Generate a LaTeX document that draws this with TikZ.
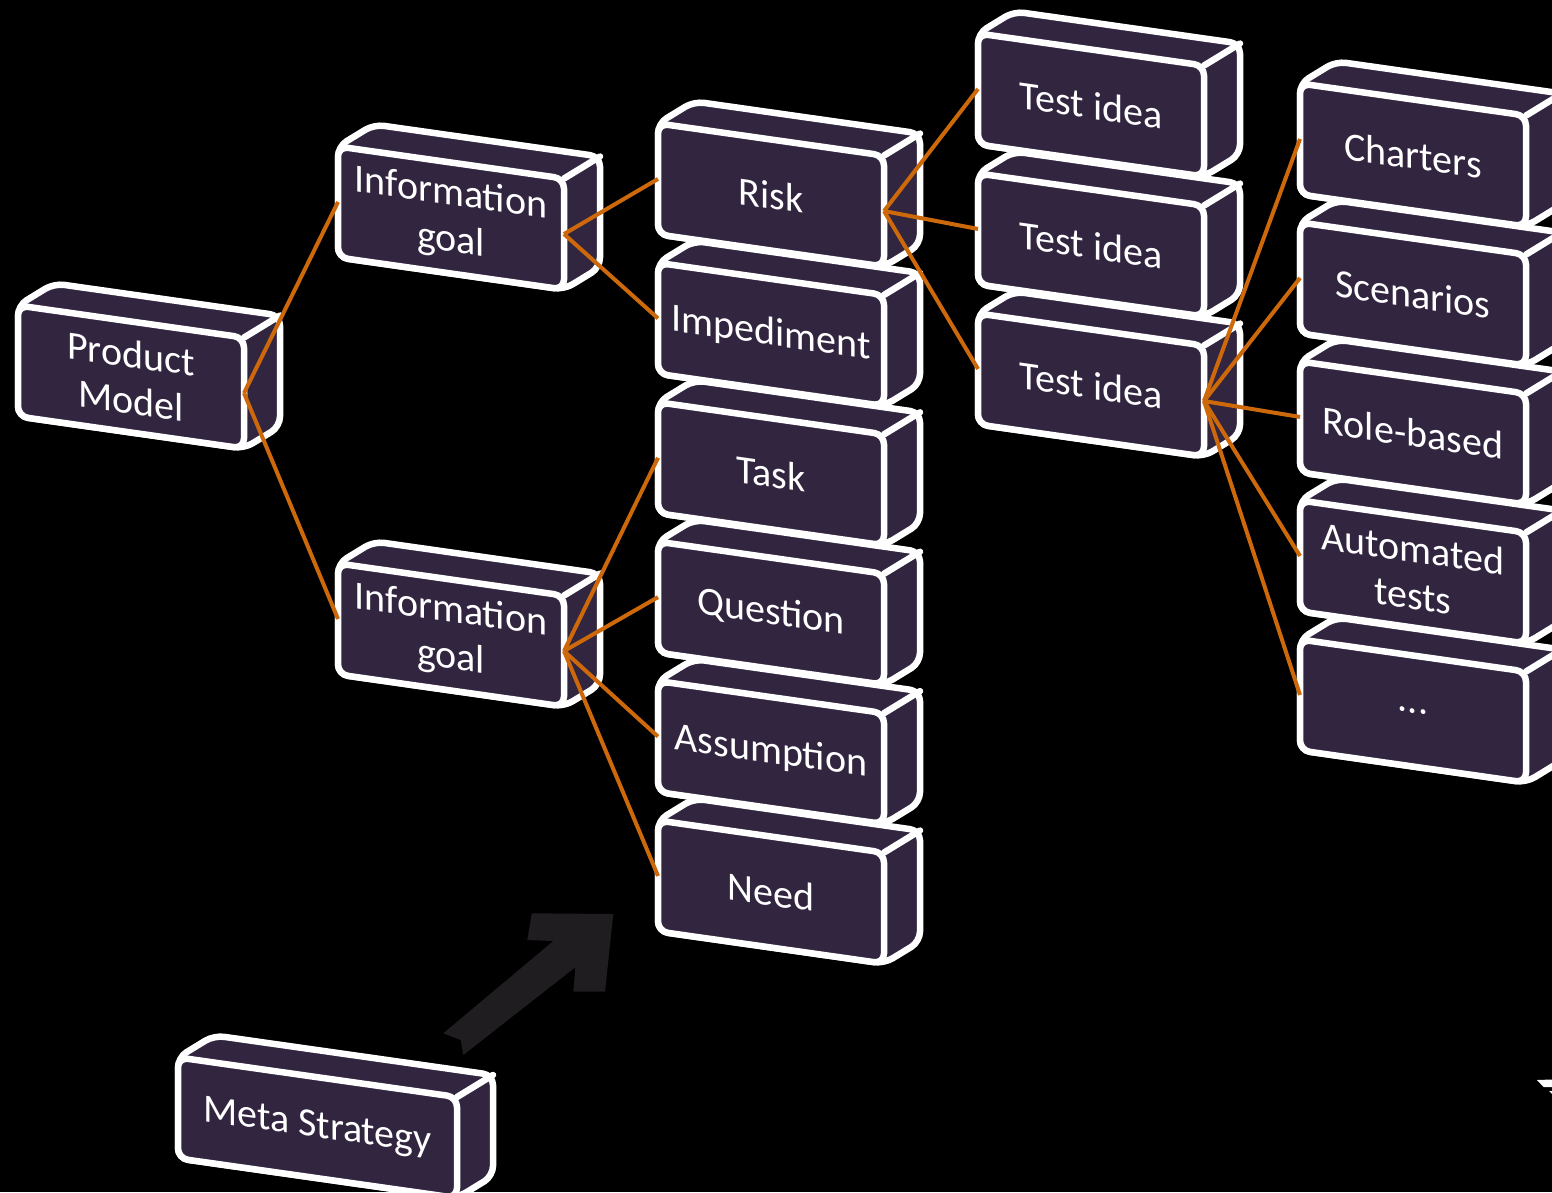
\documentclass[tikz,border=0pt]{standalone}
\usepackage{fontspec}
\setmainfont{Carlito}
\definecolor{boxfill}{RGB}{49,37,64}
\definecolor{linkorange}{RGB}{205,105,10}
\definecolor{sketch}{RGB}{31,29,31}
\tikzset{
  brickframe/.style={yslant=-0.142, minimum width=226pt, minimum height=111pt,
    inner sep=0pt, outer sep=0pt},
  brickbody/.style={fill=boxfill, draw=white, line width=6.5pt, rounded corners=10pt, line join=round},
  brickedge/.style={draw=white, line width=6.5pt, line cap=round},
  brickface/.style={brickframe, brickbody, text=white,
    font=\fontsize{40}{47}\selectfont, align=center},
  link/.style={draw=linkorange, line width=4pt},
}
% A slanted brick: hidden frame node, top and side faces, then the labelled front face.
\newcommand\brick[4][]{%
  \path (#3) node[brickframe,#1] (#2-frame) {};
  \draw[brickbody] (#2-frame.north west)
    -- ([shift={(36,-22)}]#2-frame.north west)
    -- ([shift={(36,-22)}]#2-frame.north east)
    -- ([shift={(36,-22)}]#2-frame.south east)
    -- (#2-frame.south east) -- (#2-frame.south west) -- cycle;
  \draw[brickedge] (#2-frame.north east) -- ([shift={(36,-22)}]#2-frame.north east);
  \node[brickface,#1] (#2) at (#3) {#4};
}
\begin{document}
\begin{tikzpicture}[x=1pt,y=-1pt]
\path[use as bounding box, fill=black] (0,0) rectangle (1552,1192);
\clip (0,0) rectangle (1552,1192);

% root and goals
\brick{pm}{131,377}{Product\\Model}
\brick{igA}{451,218}{Information\\goal}
\brick{igB}{451,635}{Information\\goal}

% third column, bottom to top so upper bricks sit in front
\brick{need}{771,892}{Need}
\brick{assumption}{771,752.6}{Assumption}
\brick{question}{771,613.2}{Question}
\brick{task}{771,473.8}{Task}
\brick{impediment}{771,334.4}{Impediment}
\brick{risk}{771,195}{Risk}

% test ideas
\brick{tiC}{1091,385}{Test idea}
\brick{tiB}{1091,245}{Test idea}
\brick{tiA}{1091,105}{Test idea}

% test forms
\brick{more}{1413,711}{...}
\brick{automated}{1413,572}{Automated\\tests}
\brick{role}{1413,433}{Role-based}
\brick{scenarios}{1413,294}{Scenarios}
\brick{charters}{1413,155}{Charters}

% meta strategy
\brick[minimum width=279pt, minimum height=101pt]{meta}{317.5,1127.7}{Meta Strategy}

% sketched arrow
\fill[sketch] (443.3,1033.3) -- (553.3,941) -- (527.3,940) -- (531.7,913.3)
  -- (613.3,914) -- (605,991.7) -- (573.3,991.7) -- (575.3,967.3)
  -- (463.3,1055) -- (460.7,1040) -- cycle;

% small white mark at the right edge
\fill[white] (1537,1080) -- (1552,1079.5) -- (1552,1087) -- (1543.5,1087) -- cycle;
\fill[white] (1549,1091) -- (1552,1091) -- (1552,1094) -- cycle;

% connectors
\draw[link] (pm.east) -- (igA.west);
\draw[link] (pm.east) -- (igB.west);
\draw[link] (igA.east) -- (risk.west);
\draw[link] (igA.east) -- (impediment.west);
\draw[link] (igB.east) -- (task.west);
\draw[link] (igB.east) -- (question.west);
\draw[link] (igB.east) -- (assumption.west);
\draw[link] (igB.east) -- (need.west);
\draw[link] (risk.east) -- (tiA.west);
\draw[link] (risk.east) -- (tiB.west);
\draw[link] (risk.east) -- (tiC.west);
\draw[link] (tiC.east) -- (charters.west);
\draw[link] (tiC.east) -- (scenarios.west);
\draw[link] (tiC.east) -- (role.west);
\draw[link] (tiC.east) -- (automated.west);
\draw[link] (tiC.east) -- (more.west);
\end{tikzpicture}
\end{document}
